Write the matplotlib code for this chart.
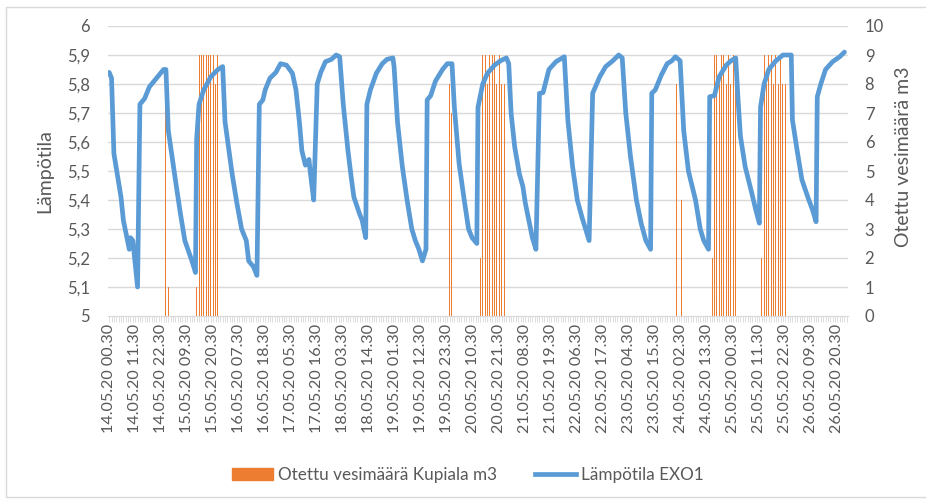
import matplotlib
matplotlib.use("Agg")
import matplotlib.pyplot as plt
from matplotlib.lines import Line2D
from matplotlib.patches import Patch, Rectangle

plt.rcParams["font.family"] = ["Lato", "DejaVu Sans"]

# x axis: hours since 14.05.20 00.30, one category per hour
tick_labels = [
    "14.05.20 00.30", "14.05.20 11.30", "14.05.20 22.30", "15.05.20 09.30",
    "15.05.20 20.30", "16.05.20 07.30", "16.05.20 18.30", "17.05.20 05.30",
    "17.05.20 16.30", "18.05.20 03.30", "18.05.20 14.30", "19.05.20 01.30",
    "19.05.20 12.30", "19.05.20 23.30", "20.05.20 10.30", "20.05.20 21.30",
    "21.05.20 08.30", "21.05.20 19.30", "22.05.20 06.30", "22.05.20 17.30",
    "23.05.20 04.30", "23.05.20 15.30", "24.05.20 02.30", "24.05.20 13.30",
    "25.05.20 00.30", "25.05.20 11.30", "25.05.20 22.30", "26.05.20 09.30",
    "26.05.20 20.30",
]
tick_hours = [0, 11, 22, 33, 44, 55, 66, 77, 88, 99, 110, 121, 132, 143, 154,
              165, 176, 187, 198, 209, 220, 231, 242, 253, 264, 275, 286, 297, 308]
n_hours = 313

# Lämpötila EXO1 (read at the turning points of the curve)
temp_hours = [
    0, 1, 2, 5, 6, 8.5, 9, 10, 12, 13, 15, 17, 19, 23, 24,
    25, 28, 30, 32, 35, 36.5, 37, 38, 40, 43, 46, 48,
    49, 52, 54, 56, 58, 59, 61, 62.5, 63.5, 65, 66, 68, 70.5, 72.5, 75,
    77.5, 79, 80.5, 81.5, 83, 84.5, 85, 86.5, 88, 89.5, 91.5, 94, 96, 97.5,
    99, 101, 102.5, 103.5, 106, 107, 108.5, 109, 110.5, 113, 115.5, 117.5, 120,
    120.5, 122, 124, 126, 128, 129.5, 131, 132.5, 134, 134.5, 136, 138, 141, 143, 145,
    146, 148, 150, 152, 153.5, 155.5, 156, 158, 160, 163, 165.5, 168,
    169, 170, 171.5, 173.5, 175, 176, 177.5, 179, 180.5, 182, 183.5, 186, 189, 192.5,
    194, 196, 198, 200, 203, 204.5, 207.5, 210, 213, 215.5,
    217, 218.5, 220.5, 223, 225, 227, 229, 229.5, 231, 233.5, 236, 238, 239.5,
    241.5, 243, 245, 248, 250, 251.5, 253.5, 254, 256, 258, 261, 263, 265,
    266, 267, 269, 271.5, 273.5, 275, 275.5, 277, 279, 282, 285, 288.5,
    289, 291, 293, 295.5, 297.5, 299, 299.5, 301, 303, 306, 309, 311,
]
temp_values = [
    5.84, 5.82, 5.56, 5.41, 5.33, 5.23, 5.27, 5.26, 5.10, 5.73, 5.75, 5.79, 5.81, 5.85, 5.85,
    5.64, 5.47, 5.36, 5.26, 5.19, 5.15, 5.61, 5.73, 5.78, 5.825, 5.85, 5.86,
    5.67, 5.49, 5.39, 5.30, 5.26, 5.19, 5.17, 5.14, 5.73, 5.745, 5.78, 5.82, 5.84, 5.87, 5.865,
    5.837, 5.78, 5.665, 5.57, 5.52, 5.54, 5.50, 5.40, 5.80, 5.84, 5.877, 5.885, 5.90, 5.894,
    5.73, 5.57, 5.47, 5.41, 5.35, 5.33, 5.27, 5.73, 5.78, 5.837, 5.87, 5.885, 5.89,
    5.86, 5.665, 5.515, 5.40, 5.30, 5.26, 5.23, 5.19, 5.23, 5.745, 5.76, 5.81, 5.85, 5.87, 5.87,
    5.72, 5.526, 5.41, 5.30, 5.27, 5.25, 5.72, 5.80, 5.837, 5.865, 5.88, 5.89,
    5.87, 5.70, 5.584, 5.49, 5.446, 5.39, 5.33, 5.27, 5.23, 5.768, 5.77, 5.85, 5.877, 5.894,
    5.676, 5.515, 5.40, 5.34, 5.26, 5.768, 5.825, 5.86, 5.88, 5.90,
    5.89, 5.70, 5.55, 5.40, 5.32, 5.26, 5.23, 5.768, 5.78, 5.83, 5.87, 5.88, 5.894,
    5.88, 5.64, 5.50, 5.40, 5.30, 5.26, 5.23, 5.756, 5.76, 5.825, 5.865, 5.88, 5.89,
    5.745, 5.62, 5.515, 5.434, 5.366, 5.32, 5.72, 5.80, 5.85, 5.88, 5.90, 5.90,
    5.676, 5.57, 5.47, 5.41, 5.366, 5.325, 5.756, 5.80, 5.85, 5.877, 5.894, 5.91,
]

# Otettu vesimäärä Kupiala m3 (hours with water taken)
water_hours = [
    24, 25,
    37, 38, 39, 40, 41, 42, 43, 44, 45, 46,
    144, 145,
    157, 158, 159, 160, 161, 162, 163, 164, 165, 166, 167,
    240, 242,
    255, 256, 257, 258, 259, 260, 261, 262, 263, 264, 265,
    276, 277, 278, 279, 280, 281, 282, 283, 284, 285, 286,
]
water_m3 = [
    8, 1,
    1, 9, 9, 9, 9, 9, 9, 9, 8, 9,
    8, 7,
    2, 9, 9, 8, 9, 9, 9, 8, 9, 8, 8,
    8, 4,
    2, 9, 9, 8, 9, 9, 8, 9, 8, 9, 8,
    2, 9, 8, 9, 9, 8, 9, 8, 9, 8, 8,
]

BLUE = "#5B9BD5"
ORANGE = "#ED7D31"
TEXT = "#595959"
GRID = "#D9D9D9"

fig = plt.figure(figsize=(9.26, 4.99), dpi=100)
ax_t = fig.add_axes([108 / 926, 1 - 316 / 499, 740 / 926, 290 / 499])
ax_v = ax_t.twinx()

# bars and grid behind, temperature line on top
ax_v.set_zorder(0)
ax_t.set_zorder(1)
ax_t.patch.set_visible(False)

ax_v.bar(water_hours, water_m3, width=0.42, color=ORANGE, linewidth=0)
ax_v.set_ylim(0, 10)
ax_v.set_yticks(range(0, 11))
for y in range(1, 11):
    ax_v.axhline(y, color=GRID, lw=1, zorder=0)

ax_t.plot(temp_hours, temp_values, color=BLUE, lw=3.4, solid_capstyle="round",
          solid_joinstyle="round")
ax_t.set_ylim(5, 6)
ax_t.set_yticks([5 + i / 10 for i in range(11)])
ax_t.set_yticklabels(["5", "5,1", "5,2", "5,3", "5,4", "5,5", "5,6", "5,7",
                      "5,8", "5,9", "6"])
ax_t.set_xlim(-0.5, n_hours - 0.5)
ax_t.set_xticks(tick_hours)
ax_t.set_xticklabels(tick_labels, rotation=90)
ax_t.set_xticks(range(n_hours), minor=True)

for a in (ax_t, ax_v):
    for s in ("top", "left", "right"):
        a.spines[s].set_visible(False)
    a.spines["bottom"].set_color(GRID)
    a.tick_params(axis="y", length=0, labelsize=12, colors=TEXT)
ax_t.tick_params(axis="y", pad=13)
ax_v.tick_params(axis="y", pad=12)
ax_t.tick_params(axis="x", which="both", length=4, width=0.6, color=GRID,
                 labelsize=11.6, labelcolor=TEXT, pad=2)
ax_v.tick_params(axis="x", which="both", length=0, labelbottom=False)

ax_t.set_ylabel("Lämpötila", fontsize=14, color=TEXT)
ax_t.yaxis.set_label_coords(-0.074, 0.5)
ax_v.set_ylabel("Otettu vesimäärä m3", fontsize=14, color=TEXT, rotation=90)
ax_v.yaxis.set_label_coords(1.064, 0.55)

handles = [Patch(color=ORANGE), Line2D([0], [0], color=BLUE, lw=3.4)]
fig.legend(handles, ["Otettu vesimäärä Kupiala m3", "Lämpötila EXO1"],
           loc="center", bbox_to_anchor=(0.505, 1 - 475 / 499), ncol=2,
           frameon=False, fontsize=12.3, labelcolor=TEXT, handlelength=2.4,
           handletextpad=0.3, columnspacing=2.2)

fig.add_artist(Rectangle((6 / 926, 2 / 499), 1.0, 1 - 9 / 499,
                         transform=fig.transFigure, fill=False,
                         edgecolor=GRID, lw=1))

fig.savefig("out.png", dpi=100)
